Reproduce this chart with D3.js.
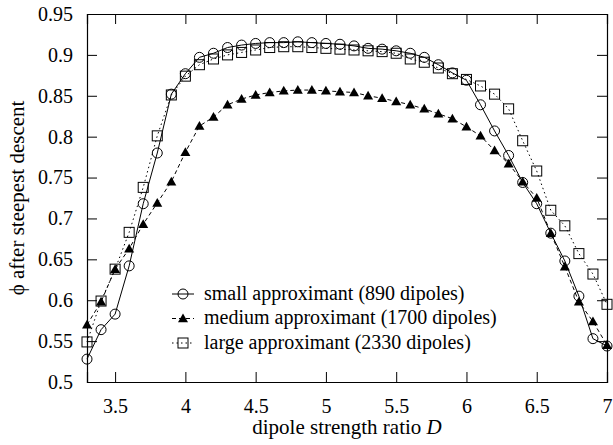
<!DOCTYPE html>
<html>
<head>
<meta charset="utf-8">
<script src="https://cdn.jsdelivr.net/npm/d3@7"></script>
<style>
  body { margin: 0; background: #fff; }
  svg text { font-family: "Liberation Serif", "DejaVu Serif", serif; fill: #000; }
</style>
</head>
<body>
<svg id="chart" width="613" height="445"></svg>
<script>
const D = [3.3, 3.4, 3.5, 3.6, 3.7, 3.8, 3.9, 4.0, 4.1, 4.2, 4.3, 4.4, 4.5, 4.6, 4.7, 4.8, 4.9,
  5.0, 5.1, 5.2, 5.3, 5.4, 5.5, 5.6, 5.7, 5.8, 5.9, 6.0, 6.1, 6.2, 6.3, 6.4, 6.5, 6.6, 6.7, 6.8, 6.9, 7.0];

const small = [0.528, 0.564, 0.583, 0.642, 0.718, 0.780, 0.852, 0.877, 0.897, 0.902, 0.909, 0.912,
  0.914, 0.915, 0.915, 0.916, 0.915, 0.914, 0.913, 0.911, 0.908, 0.907, 0.905, 0.902, 0.897, 0.888,
  0.878, 0.869, 0.839, 0.807, 0.777, 0.744, 0.718, 0.682, 0.648, 0.605, 0.553, 0.544];

const medium = [0.570, 0.598, 0.638, 0.663, 0.693, 0.719, 0.745, 0.781, 0.813, 0.824, 0.839, 0.846,
  0.851, 0.854, 0.856, 0.857, 0.857, 0.856, 0.855, 0.854, 0.850, 0.847, 0.843, 0.839, 0.834, 0.828,
  0.822, 0.812, 0.801, 0.783, 0.767, 0.745, 0.725, 0.682, 0.641, 0.598, 0.574, 0.545];

const large = [0.549, 0.599, 0.638, 0.683, 0.738, 0.801, 0.851, 0.874, 0.888, 0.895, 0.900, 0.903,
  0.906, 0.909, 0.910, 0.910, 0.909, 0.908, 0.907, 0.906, 0.905, 0.904, 0.902, 0.895, 0.891, 0.884,
  0.877, 0.870, 0.862, 0.852, 0.834, 0.795, 0.758, 0.710, 0.691, 0.657, 0.632, 0.595];

const xTicks = [3.5, 4, 4.5, 5, 5.5, 6, 6.5, 7];
const yTicks = [0.5, 0.55, 0.6, 0.65, 0.7, 0.75, 0.8, 0.85, 0.9, 0.95];

const series = [
  { name: "small approximant (890 dipoles)", values: small, dash: null, marker: "circle" },
  { name: "medium approximant (1700 dipoles)", values: medium, dash: "4,3", marker: "triangle" },
  { name: "large approximant (2330 dipoles)", values: large, dash: "1.5,3", marker: "square" }
];

const svg = d3.select("#chart");
const margin = { top: 14, right: 6, bottom: 63, left: 87 };
const W = 613, H = 445;

const x = d3.scaleLinear().domain([3.3, 7]).range([margin.left, W - margin.right]);
const y = d3.scaleLinear().domain([0.5, 0.95]).range([H - margin.bottom, margin.top]);

const fmt = d => String(d);

// axes, ticks pointing inwards on all four sides
svg.append("g")
  .attr("transform", `translate(0,${y(0.5)})`)
  .call(d3.axisBottom(x).tickValues(xTicks).tickSize(-10).tickPadding(17).tickFormat(fmt))
  .call(g => g.selectAll("text").attr("font-size", 20));
svg.append("g")
  .attr("transform", `translate(0,${y(0.95)})`)
  .call(d3.axisTop(x).tickValues(xTicks).tickSize(-10).tickFormat(""));
svg.append("g")
  .attr("transform", `translate(${x(3.3)},0)`)
  .call(d3.axisLeft(y).tickValues(yTicks).tickSize(-10).tickPadding(14).tickFormat(fmt))
  .call(g => g.selectAll("text").attr("font-size", 20));
svg.append("g")
  .attr("transform", `translate(${x(7)},0)`)
  .call(d3.axisRight(y).tickValues(yTicks).tickSize(-10).tickFormat(""));

svg.selectAll(".domain").attr("stroke", "#000").attr("stroke-width", 1.2);
svg.selectAll(".tick line").attr("stroke", "#000");

// axis titles
svg.append("text")
  .attr("x", (x(3.3) + x(7)) / 2).attr("y", 434)
  .attr("text-anchor", "middle").attr("font-size", 21)
  .html('dipole strength ratio <tspan font-style="italic">D</tspan>');
svg.append("text")
  .attr("transform", `translate(24,${(y(0.5) + y(0.95)) / 2}) rotate(-90)`)
  .attr("text-anchor", "middle").attr("font-size", 21)
  .text("ϕ after steepest descent");

const line = d3.line().x(d => x(d[0])).y(d => y(d[1]));

function drawMarker(g, type, cx, cy) {
  if (type === "circle") {
    g.append("circle").attr("cx", cx).attr("cy", cy).attr("r", 5)
      .attr("fill", "none").attr("stroke", "#000").attr("stroke-width", 1);
  } else if (type === "square") {
    g.append("rect").attr("x", cx - 5).attr("y", cy - 5).attr("width", 10).attr("height", 10)
      .attr("fill", "none").attr("stroke", "#000").attr("stroke-width", 1);
  } else {
    const s = 5;
    g.append("path")
      .attr("d", `M${cx},${cy - s}L${cx + s},${cy + s * 0.75}L${cx - s},${cy + s * 0.75}Z`)
      .attr("fill", "#000");
  }
}

series.forEach(s => {
  const pts = D.map((d, i) => [d, s.values[i]]);
  const g = svg.append("g");
  g.append("path").datum(pts).attr("d", line)
    .attr("fill", "none").attr("stroke", "#000").attr("stroke-width", 1)
    .attr("stroke-dasharray", s.dash);
  pts.forEach(p => drawMarker(g, s.marker, x(p[0]), y(p[1])));
});

// legend
const legend = svg.append("g");
series.forEach((s, i) => {
  const ly = 294 + i * 24.5;
  legend.append("line").attr("x1", 172).attr("x2", 194).attr("y1", ly).attr("y2", ly)
    .attr("stroke", "#000").attr("stroke-width", 1).attr("stroke-dasharray", s.dash);
  drawMarker(legend, s.marker, 183, ly);
  legend.append("text").attr("x", 204).attr("y", ly + 5.5).attr("font-size", 20).text(s.name);
});
</script>
</body>
</html>
